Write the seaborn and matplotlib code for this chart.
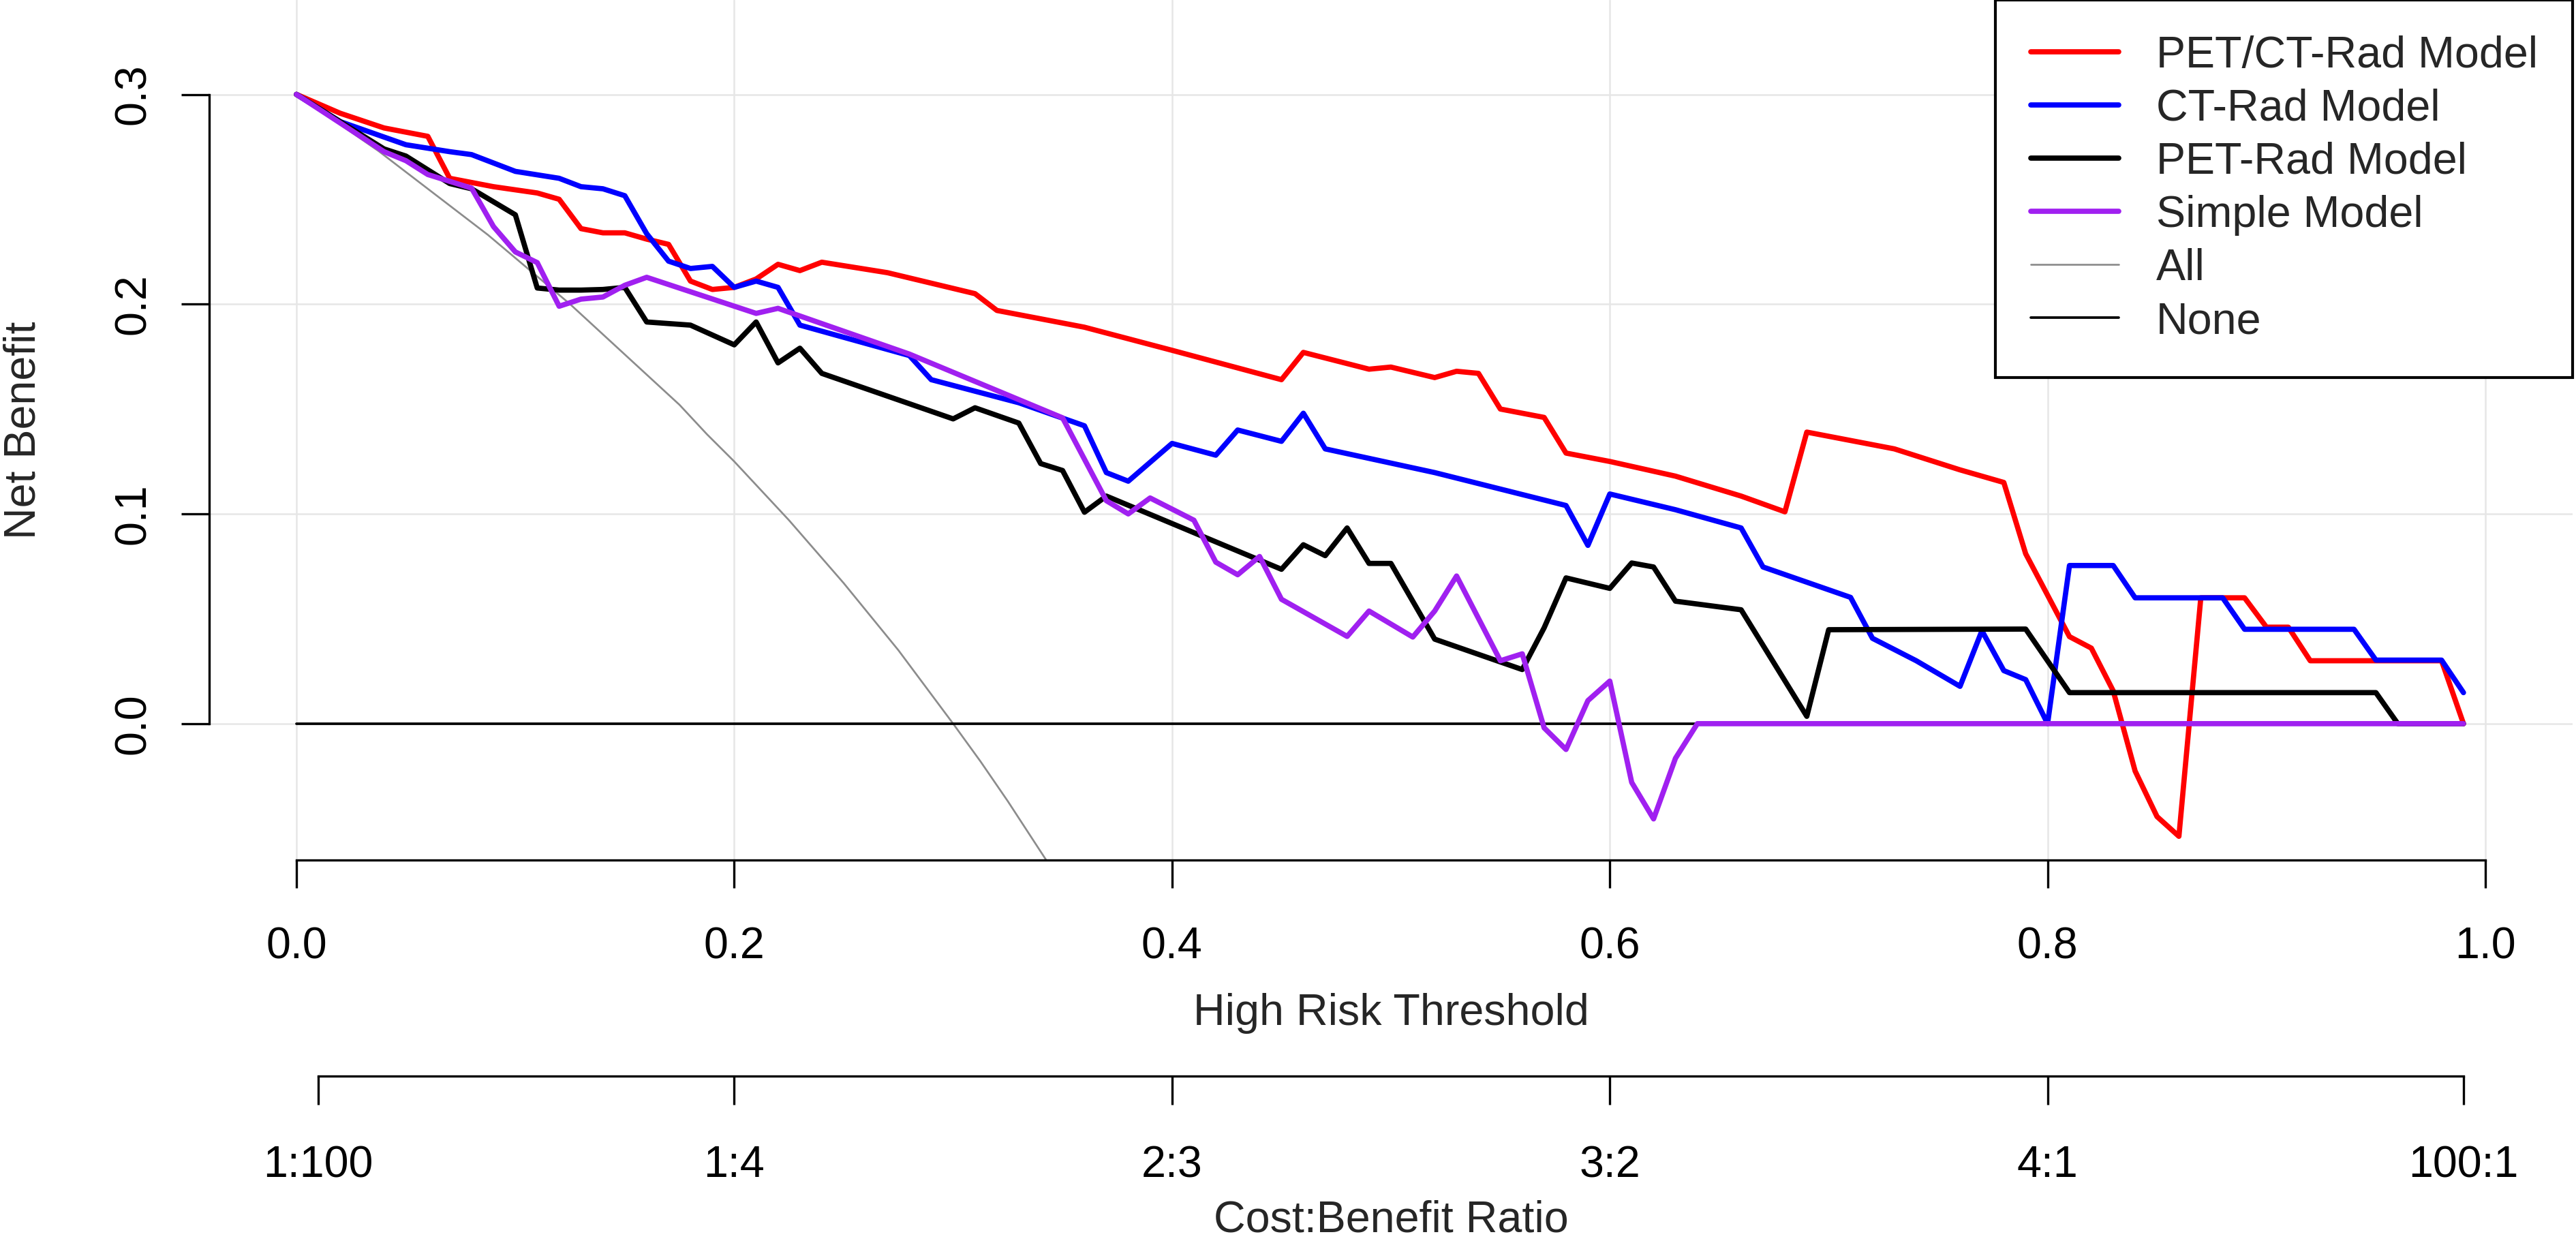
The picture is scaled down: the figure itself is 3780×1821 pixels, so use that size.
import pandas as pd
import matplotlib.pyplot as plt
import seaborn as sns
from matplotlib.lines import Line2D

# values
pet_ct_x = [0.00, 0.02, 0.04, 0.06, 0.07, 0.09, 0.11, 0.12, 0.13, 0.14, 0.15, 0.16, 0.17, 0.18, 0.19,
            0.20, 0.21, 0.22, 0.23, 0.24, 0.27, 0.29, 0.31, 0.32, 0.36, 0.40, 0.45, 0.46, 0.49, 0.50,
            0.52, 0.53, 0.54, 0.55, 0.57, 0.58, 0.60, 0.63, 0.66, 0.68, 0.69, 0.73, 0.76, 0.78, 0.79,
            0.81, 0.82, 0.83, 0.84, 0.85, 0.86, 0.87, 0.89, 0.90, 0.91, 0.92, 0.98, 0.99]
pet_ct_y = [0.300, 0.291, 0.284, 0.280, 0.260, 0.256, 0.253, 0.250, 0.236, 0.234, 0.234, 0.231, 0.2285, 0.211, 0.207,
            0.208, 0.212, 0.219, 0.216, 0.220, 0.215, 0.210, 0.205, 0.197, 0.189, 0.178, 0.164, 0.177, 0.169, 0.170,
            0.165, 0.168, 0.167, 0.150, 0.146, 0.129, 0.125, 0.118, 0.1085, 0.101, 0.139, 0.131, 0.121, 0.115, 0.081,
            0.0415, 0.036, 0.0156, -0.0226, -0.0443, -0.0537, 0.060, 0.060, 0.046, 0.046, 0.030, 0.030, 0.000]

ct_x = [0.00, 0.02, 0.05, 0.07, 0.08, 0.10, 0.12, 0.13, 0.14, 0.15, 0.16, 0.17, 0.18, 0.19, 0.20,
        0.21, 0.22, 0.23, 0.28, 0.29, 0.33, 0.36, 0.37, 0.38, 0.40, 0.42, 0.43, 0.45, 0.46, 0.47,
        0.52, 0.58, 0.59, 0.60, 0.63, 0.66, 0.67, 0.71, 0.72, 0.74, 0.76, 0.77, 0.78, 0.79, 0.80,
        0.81, 0.83, 0.84, 0.88, 0.89, 0.94, 0.95, 0.98, 0.99]
ct_y = [0.300, 0.287, 0.276, 0.2727, 0.2713, 0.2633, 0.260, 0.256, 0.255, 0.2517, 0.2336, 0.2205, 0.217, 0.218, 0.208,
        0.211, 0.208, 0.190, 0.1755, 0.164, 0.153, 0.142, 0.1197, 0.1156, 0.1336, 0.128, 0.140, 0.1346, 0.148, 0.131,
        0.1197, 0.104, 0.085, 0.1095, 0.102, 0.0933, 0.0747, 0.0602, 0.0407, 0.030, 0.0178, 0.0443, 0.0253, 0.021, 0.000,
        0.0754, 0.0754, 0.060, 0.060, 0.045, 0.045, 0.0303, 0.0303, 0.0148]

pet_x = [0.00, 0.04, 0.05, 0.07, 0.08, 0.10, 0.11, 0.12, 0.13, 0.14, 0.15, 0.16, 0.18, 0.20, 0.21,
         0.22, 0.23, 0.24, 0.30, 0.31, 0.33, 0.34, 0.35, 0.36, 0.37, 0.45, 0.46, 0.47, 0.48, 0.49,
         0.50, 0.52, 0.56, 0.57, 0.58, 0.60, 0.61, 0.62, 0.63, 0.66, 0.69, 0.70, 0.79, 0.81, 0.95,
         0.96, 0.99]
pet_y = [0.300, 0.274, 0.2706, 0.2575, 0.255, 0.2426, 0.2077, 0.2067, 0.2067, 0.207, 0.208, 0.1915, 0.190, 0.1806, 0.1915,
         0.172, 0.179, 0.167, 0.1453, 0.1506, 0.1433, 0.124, 0.1207, 0.1008, 0.1085, 0.0736, 0.0853, 0.0801, 0.0933, 0.0764,
         0.0764, 0.0403, 0.0258, 0.0457, 0.0695, 0.0645, 0.0766, 0.0747, 0.0584, 0.0543, 0.0035, 0.0448, 0.0451, 0.0148, 0.0148,
         0.000, 0.000]

simple_x = [0.00, 0.04, 0.05, 0.06, 0.08, 0.09, 0.10, 0.11, 0.12, 0.13, 0.14, 0.15, 0.16, 0.21, 0.22,
            0.28, 0.35, 0.37, 0.38, 0.39, 0.41, 0.42, 0.43, 0.44, 0.45, 0.48, 0.49, 0.51, 0.52, 0.53,
            0.55, 0.56, 0.57, 0.58, 0.59, 0.60, 0.61, 0.62, 0.63, 0.64, 0.99]
simple_y = [0.300, 0.2727, 0.2684, 0.2618, 0.2553, 0.237, 0.2249, 0.2198, 0.199, 0.2024, 0.2034, 0.209, 0.2128, 0.1956, 0.198,
            0.1762, 0.1458, 0.1063, 0.100, 0.1076, 0.097, 0.077, 0.071, 0.0797, 0.0593, 0.0416, 0.0537, 0.0413, 0.0537, 0.0704,
            0.030, 0.0333, -0.002, -0.0123, 0.011, 0.0203, -0.028, -0.0454, -0.0165, 0.000, 0.000]

all_x = [0.00, 0.0125, 0.025, 0.0375, 0.05, 0.0625, 0.075, 0.0875, 0.10, 0.1125, 0.125, 0.1375, 0.15, 0.1625,
         0.175, 0.1875, 0.20, 0.2125, 0.225, 0.2375, 0.25, 0.2625, 0.275, 0.2875, 0.30, 0.3125, 0.325, 0.3375, 0.35]
all_y = [0.300, 0.291, 0.282, 0.273, 0.263, 0.253, 0.243, 0.233, 0.222, 0.211, 0.200, 0.188, 0.176, 0.164,
         0.152, 0.138, 0.125, 0.111, 0.097, 0.082, 0.067, 0.051, 0.035, 0.0175, 0.000, -0.018, -0.037, -0.057, -0.077]

none_x = [0.00, 0.99]
none_y = [0.0, 0.0]

model_names = ["PET/CT-Rad Model", "CT-Rad Model", "PET-Rad Model", "Simple Model"]
model_colors = ["#FF0000", "#0000FF", "#000000", "#A020F0"]

x_ticks = [0.0, 0.2, 0.4, 0.6, 0.8, 1.0]
y_ticks = [0.0, 0.1, 0.2, 0.3]
cost_ticks = [0.0099, 0.2, 0.4, 0.6, 0.8, 0.9901]
cost_labels = ["1:100", "1:4", "2:3", "3:2", "4:1", "100:1"]

frames = []
for name, xs, ys in zip(model_names, [pet_ct_x, ct_x, pet_x, simple_x], [pet_ct_y, ct_y, pet_y, simple_y]):
    frames.append(pd.DataFrame({"threshold": xs, "net_benefit": ys, "model": name}))
df = pd.concat(frames, ignore_index=True)

sns.set_theme(style="white")
plt.rcParams["font.family"] = ["Liberation Sans", "DejaVu Sans"]
plt.rcParams["lines.solid_capstyle"] = "round"
plt.rcParams["lines.solid_joinstyle"] = "round"

FS = 15.5
LW = 1.85
fig = plt.figure(figsize=(12.6, 6.07), dpi=300)
ax = fig.add_axes([0.0811, 0.307, 0.9177, 0.693])

ax.grid(True, color="#e6e6e6", linewidth=0.6)
ax.set_axisbelow(True)

sns.lineplot(x=all_x, y=all_y, color="#8c8c8c", linewidth=0.65, ax=ax, estimator=None)
sns.lineplot(x=none_x, y=none_y, color="black", linewidth=0.9, ax=ax, estimator=None)
sns.lineplot(data=df, x="threshold", y="net_benefit", hue="model", hue_order=model_names,
             palette=model_colors, linewidth=LW, estimator=None, legend=False, ax=ax)

ax.set_xlim(-0.04, 1.04)
ax.set_ylim(-0.065, 0.345)

ax.set_xticks(x_ticks, labels=[f"{v:.1f}" for v in x_ticks])
ax.set_yticks(y_ticks, labels=[f"{v:.1f}" for v in y_ticks])
for lbl in ax.get_yticklabels():
    lbl.set_rotation(90)
    lbl.set_va("center")

for s in ["top", "right"]:
    ax.spines[s].set_visible(False)
ax.spines["bottom"].set_bounds(0, 1)
ax.spines["left"].set_bounds(0, 0.3)
for s in ["bottom", "left"]:
    ax.spines[s].set_color("black")
    ax.spines[s].set_linewidth(0.8)

ax.tick_params(axis="x", bottom=True, direction="out", length=9.8, width=0.8, pad=13.7,
               labelsize=FS, colors="black")
ax.tick_params(axis="y", left=True, direction="out", length=9.8, width=0.8, pad=9.6,
               labelsize=FS, colors="black")

ax.set_xlabel("High Risk Threshold", fontsize=FS)
ax.xaxis.set_label_coords(0.5, -0.1545)
ax.set_ylabel("Net Benefit", fontsize=FS)
ax.yaxis.set_label_coords(-0.0698, 0.5)

# cost:benefit axis underneath
secax = ax.secondary_xaxis(-0.2515)
secax.set_xticks(cost_ticks, labels=cost_labels)
secax.spines["bottom"].set_bounds(cost_ticks[0], cost_ticks[-1])
secax.spines["bottom"].set_color("black")
secax.spines["bottom"].set_linewidth(0.8)
secax.tick_params(axis="x", direction="out", length=10, width=0.8, pad=14.2,
                  labelsize=FS, colors="black")
fig.text(0.540, 0.0072, "Cost:Benefit Ratio", ha="center", va="baseline", fontsize=FS)

handles = [Line2D([], [], color=c, linewidth=LW) for c in model_colors]
handles += [Line2D([], [], color="#8c8c8c", linewidth=0.65), Line2D([], [], color="black", linewidth=0.9)]
leg = ax.legend(handles, model_names + ["All", "None"], loc="upper right", bbox_to_anchor=(1.0, 1.0),
                fontsize=FS, frameon=True, fancybox=False, framealpha=1, edgecolor="black",
                borderpad=0.8, labelspacing=0.28, handlelength=2.0, handletextpad=0.85, borderaxespad=0)
leg.get_frame().set_linewidth(1.0)

plt.savefig("out.png", dpi=300)
plt.close()
